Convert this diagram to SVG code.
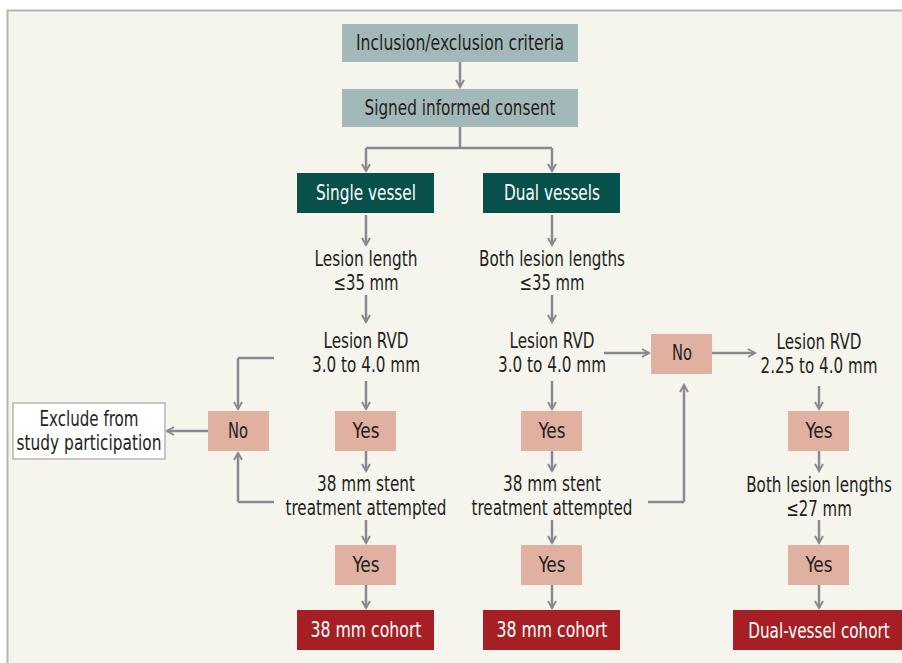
<svg xmlns="http://www.w3.org/2000/svg" width="902" height="663" viewBox="0 0 902 663">
<defs>
<marker id="ah" viewBox="0 0 10 10" refX="8" refY="5" markerWidth="10" markerHeight="10" markerUnits="userSpaceOnUse" orient="auto">
<path d="M1,1 L8,5 L1,9" fill="none" stroke="#8a8a8e" stroke-width="2"/>
</marker>
<style>
text{font-family:"DejaVu Sans Condensed","Liberation Sans",sans-serif;font-stretch:condensed;font-size:21px;fill:#231f20;text-anchor:middle;dominant-baseline:central}
.w{fill:#ffffff}
.top{fill:#a3b9b9}
.teal{fill:#07514a}
.pink{fill:#e0b0a0}
.red{fill:#a51f24}
.ex{fill:#ffffff;stroke:#b5b5b5;stroke-width:1.5}
.c path{fill:none;stroke:#8a8a8e;stroke-width:2.5}
.a{marker-end:url(#ah)}
</style>
</defs>
<rect x="0" y="0" width="902" height="663" fill="#ffffff"/>
<rect x="7" y="10" width="895" height="653" fill="#f5f5ee"/>
<path d="M7.5,663 V10.5 H902" fill="none" stroke="#b5b5b5" stroke-width="2"/>

<g class="c">
<path class="a" d="M460,62 V87"/>
<path d="M460,127 V148 H366 M460,148 H552"/>
<path class="a" d="M366,148 V171"/>
<path class="a" d="M552,148 V171"/>
<path class="a" d="M366,215 V245"/>
<path class="a" d="M366,295 V322"/>
<path class="a" d="M366,381 V409"/>
<path d="M274,358 H238"/>
<path class="a" d="M238,358 V409"/>
<path class="a" d="M208,431 H167"/>
<path class="a" d="M366,451 V471"/>
<path d="M274,502 H238"/>
<path class="a" d="M238,502 V453"/>
<path class="a" d="M366,520 V543"/>
<path class="a" d="M366,585 V608"/>
<path class="a" d="M552,215 V245"/>
<path class="a" d="M552,295 V322"/>
<path class="a" d="M604,353 H649"/>
<path class="a" d="M712,353 H755"/>
<path class="a" d="M552,381 V409"/>
<path class="a" d="M552,451 V471"/>
<path d="M648,502 H684"/>
<path class="a" d="M684,502 V385"/>
<path class="a" d="M552,520 V543"/>
<path class="a" d="M552,585 V608"/>
<path class="a" d="M819,386 V409"/>
<path class="a" d="M819,451 V471"/>
<path class="a" d="M819,520 V543"/>
<path class="a" d="M819,585 V608"/>
</g>

<g id="inclusion"><rect class="top" x="342" y="24" width="236" height="38"/><text x="460" y="43" textLength="208" lengthAdjust="spacingAndGlyphs">Inclusion/exclusion criteria</text></g>
<g id="consent"><rect class="top" x="342" y="89" width="236" height="38"/><text x="460" y="108" textLength="191" lengthAdjust="spacingAndGlyphs">Signed informed consent</text></g>
<g id="single"><rect class="teal" x="297" y="173" width="137" height="40"/><text class="w" x="366" y="193" textLength="100" lengthAdjust="spacingAndGlyphs">Single vessel</text></g>
<g id="dual"><rect class="teal" x="483" y="173" width="137" height="40"/><text class="w" x="552" y="193" textLength="96" lengthAdjust="spacingAndGlyphs">Dual vessels</text></g>

<g id="s-length"><text x="366" y="259" textLength="103" lengthAdjust="spacingAndGlyphs">Lesion length</text><text x="366" y="283" textLength="65" lengthAdjust="spacingAndGlyphs">≤35 mm</text></g>
<g id="s-rvd"><text x="366" y="341" textLength="85" lengthAdjust="spacingAndGlyphs">Lesion RVD</text><text x="366" y="365" textLength="108" lengthAdjust="spacingAndGlyphs">3.0 to 4.0 mm</text></g>
<g id="s-no"><rect class="pink" x="208" y="411" width="61" height="40"/><text x="238" y="431" textLength="20" lengthAdjust="spacingAndGlyphs">No</text></g>
<g id="exclude"><rect class="ex" x="13" y="403" width="152" height="56"/><text x="89" y="419" textLength="99" lengthAdjust="spacingAndGlyphs">Exclude from</text><text x="89" y="443" textLength="145" lengthAdjust="spacingAndGlyphs">study participation</text></g>
<g id="s-yes1"><rect class="pink" x="335" y="411" width="61" height="40"/><text x="366" y="431" textLength="27" lengthAdjust="spacingAndGlyphs">Yes</text></g>
<g id="s-stent"><text x="366" y="484" textLength="98" lengthAdjust="spacingAndGlyphs">38 mm stent</text><text x="366" y="508" textLength="161" lengthAdjust="spacingAndGlyphs">treatment attempted</text></g>
<g id="s-yes2"><rect class="pink" x="335" y="545" width="61" height="40"/><text x="366" y="565" textLength="27" lengthAdjust="spacingAndGlyphs">Yes</text></g>
<g id="s-cohort"><rect class="red" x="297" y="610" width="137" height="40"/><text class="w" x="366" y="630" textLength="111" lengthAdjust="spacingAndGlyphs">38 mm cohort</text></g>

<g id="d-length"><text x="552" y="259" textLength="146" lengthAdjust="spacingAndGlyphs">Both lesion lengths</text><text x="552" y="283" textLength="65" lengthAdjust="spacingAndGlyphs">≤35 mm</text></g>
<g id="d-rvd"><text x="552" y="341" textLength="85" lengthAdjust="spacingAndGlyphs">Lesion RVD</text><text x="552" y="365" textLength="108" lengthAdjust="spacingAndGlyphs">3.0 to 4.0 mm</text></g>
<g id="d-no"><rect class="pink" x="651" y="334" width="61" height="40"/><text x="682" y="353" textLength="20" lengthAdjust="spacingAndGlyphs">No</text></g>
<g id="d-yes1"><rect class="pink" x="521" y="411" width="61" height="40"/><text x="552" y="431" textLength="27" lengthAdjust="spacingAndGlyphs">Yes</text></g>
<g id="d-stent"><text x="552" y="484" textLength="98" lengthAdjust="spacingAndGlyphs">38 mm stent</text><text x="552" y="508" textLength="161" lengthAdjust="spacingAndGlyphs">treatment attempted</text></g>
<g id="d-yes2"><rect class="pink" x="521" y="545" width="61" height="40"/><text x="552" y="565" textLength="27" lengthAdjust="spacingAndGlyphs">Yes</text></g>
<g id="d-cohort"><rect class="red" x="483" y="610" width="137" height="40"/><text class="w" x="552" y="630" textLength="111" lengthAdjust="spacingAndGlyphs">38 mm cohort</text></g>

<g id="r-rvd"><text transform="translate(819 341) scale(0.8 1)" x="0" y="0" textLength="106" lengthAdjust="spacingAndGlyphs">Lesion RVD</text><text transform="translate(819 365) scale(0.8 1)" x="0" y="0" textLength="146" lengthAdjust="spacingAndGlyphs">2.25 to 4.0 mm</text></g>
<g id="r-yes1"><rect class="pink" x="788" y="411" width="61" height="40"/><text x="819" y="431" textLength="27" lengthAdjust="spacingAndGlyphs">Yes</text></g>
<g id="r-length"><text transform="translate(819 484) scale(0.8 1)" x="0" y="0" textLength="182" lengthAdjust="spacingAndGlyphs">Both lesion lengths</text><text transform="translate(819 508) scale(0.8 1)" x="0" y="0" textLength="82" lengthAdjust="spacingAndGlyphs">≤27 mm</text></g>
<g id="r-yes2"><rect class="pink" x="788" y="545" width="61" height="40"/><text x="819" y="565" textLength="27" lengthAdjust="spacingAndGlyphs">Yes</text></g>
<g id="r-cohort"><rect class="red" x="733" y="610" width="169" height="40"/><text class="w" transform="translate(819 630) scale(0.8 1)" x="0" y="0" textLength="177" lengthAdjust="spacingAndGlyphs">Dual-vessel cohort</text></g>
</svg>
